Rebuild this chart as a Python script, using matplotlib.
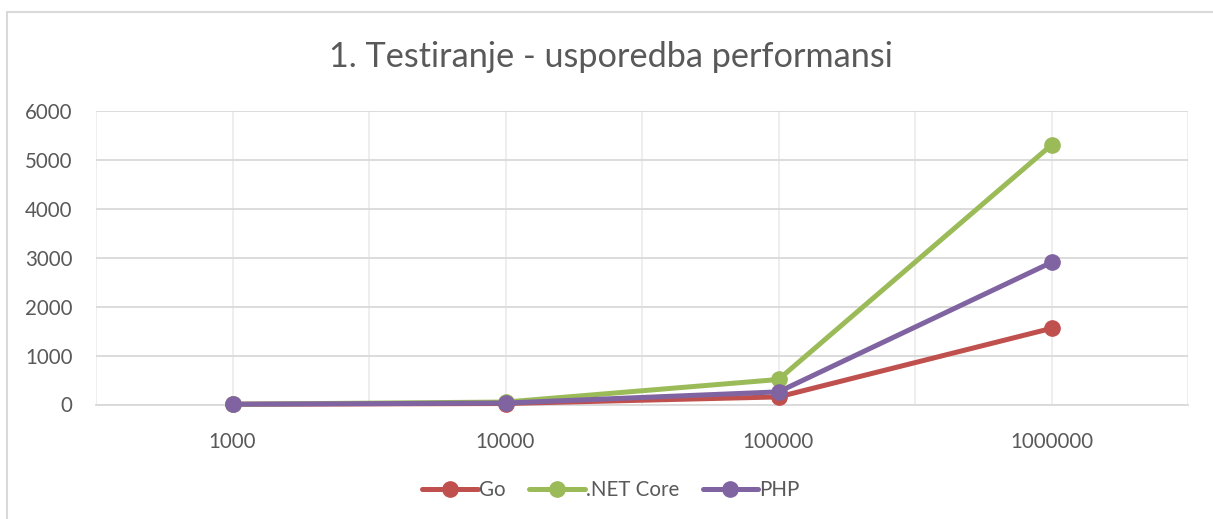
import matplotlib.pyplot as plt
from matplotlib.patches import Rectangle
from matplotlib.ticker import MultipleLocator

plt.rcParams['font.family'] = ['Lato', 'DejaVu Sans']

categories = ['1000', '10000', '100000', '1000000']
go = [5, 20, 155, 1555]
netcore = [5, 50, 511, 5300]
php = [5, 30, 258, 2902]
series_names = ['Go', '.NET Core', 'PHP']
colors = ['#C0504D', '#9BBB59', '#8064A2']
title = '1. Testiranje - usporedba performansi'

W, H = 1213, 519
fig = plt.figure(figsize=(W / 100, H / 100), dpi=100)
ax = fig.add_axes([96 / W, (H - 404.5) / H, (1188 - 96) / W, (404.5 - 110.7) / H])

x = list(range(len(categories)))
for vals, name, c in zip([go, netcore, php], series_names, colors):
    ax.plot(x, vals, color=c, lw=3.6, marker='o', markersize=11,
            label=name, solid_capstyle='round', zorder=3, clip_on=False)

ax.set_xlim(-0.5, len(categories) - 0.5)
ax.set_ylim(0, 6000)
ax.yaxis.set_major_locator(MultipleLocator(1000))
ax.set_xticks(x)
ax.set_xticklabels(categories)
ax.set_xticks([i - 0.5 for i in range(len(categories) + 1)], minor=True)

ax.grid(axis='y', which='major', color='#D9D9D9', lw=1.3, zorder=0)
ax.grid(axis='x', which='both', color='#EDEDED', lw=1.3, zorder=0)
for s in ['top', 'left', 'right']:
    ax.spines[s].set_visible(False)
ax.spines['bottom'].set_color('#D9D9D9')
ax.spines['bottom'].set_linewidth(1.3)
ax.tick_params(axis='both', which='both', length=0, colors='#595959', labelsize=14.8)
ax.tick_params(axis='y', pad=17)
ax.tick_params(axis='x', pad=20)

fig.text(611 / W, (H - 57) / H, title, ha='center', va='center', fontsize=24.7, color='#595959')

leg = ax.legend(loc='center', bbox_to_anchor=(611 / W, (H - 490) / H), bbox_transform=fig.transFigure,
                ncol=3, frameon=False, fontsize=14.8, handlelength=2.7, columnspacing=1.15,
                handletextpad=0.05, labelcolor='#595959')

fig.patches.append(Rectangle((7 / W, -0.1), 1.2, (H - 12) / H + 0.1, transform=fig.transFigure,
                             fill=False, edgecolor='#D9D9D9', lw=1.5))

fig.savefig('out.png', dpi=100, facecolor='white')
